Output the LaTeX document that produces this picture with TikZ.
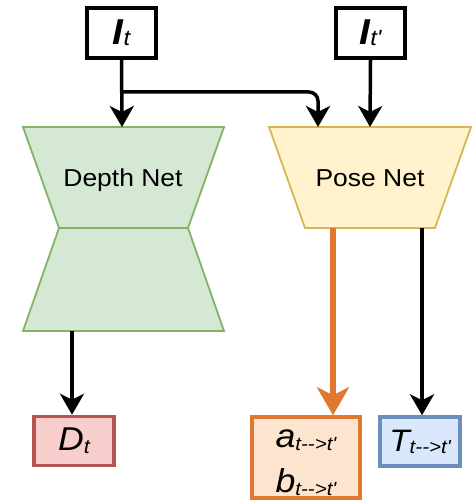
\documentclass[tikz,border=0pt]{standalone}
\usepackage{fontspec}
\setmainfont{Liberation Sans}
\usetikzlibrary{arrows.meta}

\definecolor{depthfill}{HTML}{D5E8D4}
\definecolor{depthline}{HTML}{82B366}
\definecolor{posefill}{HTML}{FFF2CC}
\definecolor{poseline}{HTML}{D6B656}
\definecolor{redfill}{HTML}{F8CECC}
\definecolor{redline}{HTML}{B85450}
\definecolor{orangefill}{HTML}{FDE4CF}
\definecolor{orangeline}{HTML}{E1782F}
\definecolor{bluefill}{HTML}{DAE8FC}
\definecolor{blueline}{HTML}{6C8EBF}

% labels are set slightly wide
\newcommand{\wide}[1]{\scalebox{1.08}[1]{#1}}
% subscript set lower and smaller than the main letter
\newcommand{\lowsub}[3][18]{\raisebox{-#2}{\fontsize{#1}{#1}\selectfont\itshape #3}}
\newcommand{\arrowsub}{t-\kern0pt-\kern0pt>t\textquotesingle}

\begin{document}
\begin{tikzpicture}[x=1pt,y=-1pt,
  inbox/.style={draw=black, line width=3.5pt, fill=white, minimum width=69pt, minimum height=50pt, inner sep=0pt},
  outbox/.style={line width=3.5pt, minimum width=80pt, minimum height=49pt, inner sep=0pt},
  netlabel/.style={font=\fontsize{24.5}{24.5}\selectfont},
  arr/.style={draw=black, line width=3.5pt, -{Stealth[length=21pt,width=24pt,inset=6pt]}},
  thickarr/.style={draw=orangeline, line width=6.5pt, -{Stealth[length=28pt,width=32pt,inset=8pt]}}
]
\useasboundingbox (0,0) rectangle (474,502);

% input frames
\node[inbox] (it)  at (121.5,33)
  {\wide{{\fontsize{36}{36}\selectfont\bfseries\itshape I}\lowsub[22]{1pt}{t}}};
\node[inbox] (itp) at (370.5,33)
  {\wide{{\fontsize{36}{36}\selectfont\bfseries\itshape I}\lowsub[22]{1pt}{t\textquotesingle}}};

% depth network: encoder and decoder halves
\coordinate (dTL) at (23,127);  \coordinate (dTR) at (224,127);
\coordinate (dML) at (59,228);  \coordinate (dMR) at (188,228);
\coordinate (dBL) at (23,331);  \coordinate (dBR) at (224,331);
\filldraw[fill=depthfill, draw=depthline, line width=1.8pt] (dTL) -- (dTR) -- (dMR) -- (dML) -- cycle;
\filldraw[fill=depthfill, draw=depthline, line width=1.8pt] (dML) -- (dMR) -- (dBR) -- (dBL) -- cycle;
\node[netlabel] (depth) at (123,180) {\wide{Depth Net}};

% pose network
\coordinate (pTL) at (269,127); \coordinate (pTR) at (471,127);
\coordinate (pBR) at (435,228); \coordinate (pBL) at (305,228);
\filldraw[fill=posefill, draw=poseline, line width=1.8pt] (pTL) -- (pTR) -- (pBR) -- (pBL) -- cycle;
\node[netlabel] (pose) at (370,178) {\wide{Pose Net}};

% outputs
\node[outbox, draw=redline, fill=redfill] (dt) at (74,441)
  {\wide{{\fontsize{33}{33}\selectfont\itshape D}\lowsub[20]{3pt}{t}}};
\node[outbox, draw=orangeline, fill=orangefill, minimum width=108pt, minimum height=81pt] (ab) at (306,457.5) {};
\node[font=\fontsize{33}{45}\selectfont, align=center, inner sep=0pt] (abtext) at (306,463)
  {\wide{{\itshape a}\lowsub[19]{3pt}{\arrowsub}}\\
   \wide{{\itshape b}\lowsub[19]{3pt}{\arrowsub}}};
\node[outbox, draw=blueline, fill=bluefill] (tt) at (420,441.5)
  {\wide{{\fontsize{31}{31}\selectfont\itshape T}\lowsub[19]{2pt}{\arrowsub}}};

% connection points on the networks
\coordinate (dIn)   at (122,127);
\coordinate (dOut)  at (72,331);
\coordinate (pInA)  at (318,127);
\coordinate (pInB)  at (370,127);
\coordinate (pOutA) at (333,228);
\coordinate (pOutB) at (422,228);
\coordinate (split) at (122,92);

% connectors
\draw[arr] (it.south) -- (dIn);
\draw[arr, rounded corners=9pt] (split) -- (pInA |- split) -- (pInA);
\draw[arr] (itp.south) -- (pInB);
\draw[arr] (dOut) -- (dOut |- dt.north);
\draw[thickarr] (pOutA) -- (pOutA |- ab.north);
\draw[arr] (pOutB) -- (pOutB |- tt.north);
\end{tikzpicture}
\end{document}
